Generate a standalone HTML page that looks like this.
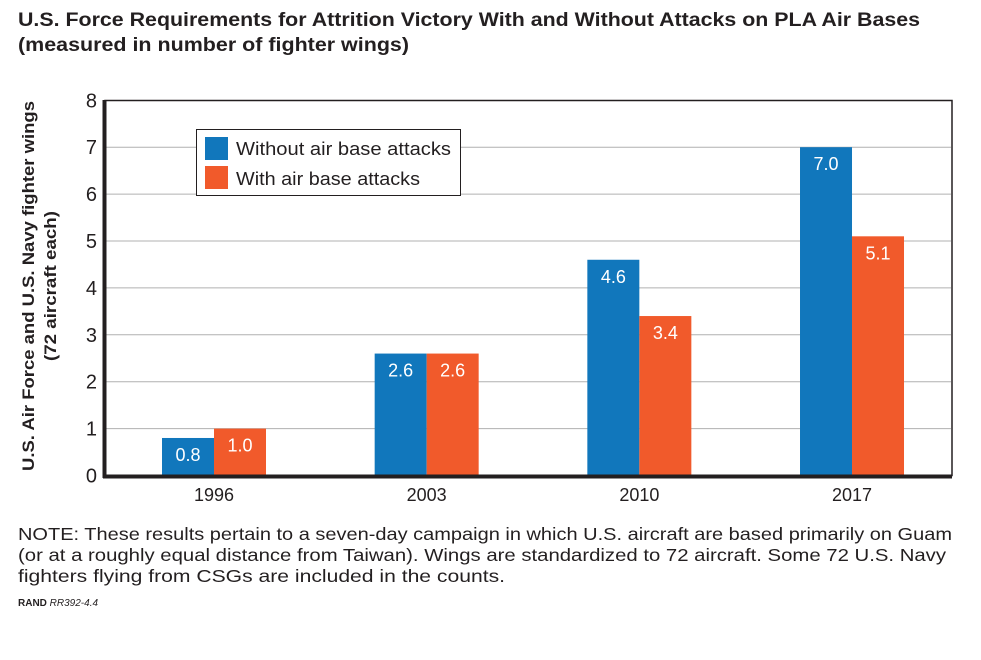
<!DOCTYPE html>
<html><head><meta charset="utf-8"><style>
body{margin:0;background:#fff;font-family:"Liberation Sans",sans-serif;}
</style></head><body>
<svg width="981" height="655" viewBox="0 0 981 655" xmlns="http://www.w3.org/2000/svg" font-family="Liberation Sans, sans-serif">
<text x="18" y="26" font-size="19" font-weight="bold" fill="#231f20" textLength="902" lengthAdjust="spacingAndGlyphs">U.S. Force Requirements for Attrition Victory With and Without Attacks on PLA Air Bases</text>
<text x="18" y="51" font-size="19" font-weight="bold" fill="#231f20" textLength="391" lengthAdjust="spacingAndGlyphs">(measured in number of fighter wings)</text>
<g id="grid"></g>
<g id="bars"></g>
<g id="yticks"></g>
<g id="xticks"></g>
<rect x="105" y="100.5" width="847" height="375" fill="none" stroke="#231f20" stroke-width="1.5"/>
<line x1="104.5" y1="100" x2="104.5" y2="478" stroke="#231f20" stroke-width="4"/>
<line x1="103" y1="476.5" x2="952" y2="476.5" stroke="#231f20" stroke-width="4"/>
<g transform="translate(34,286) rotate(-90)">
<text x="0" y="0" text-anchor="middle" font-size="17" font-weight="bold" fill="#231f20" textLength="370" lengthAdjust="spacingAndGlyphs">U.S. Air Force and U.S. Navy fighter wings</text>
<text x="0" y="22" text-anchor="middle" font-size="17" font-weight="bold" fill="#231f20" textLength="150" lengthAdjust="spacingAndGlyphs">(72 aircraft each)</text>
</g>
<g>
<rect x="196.5" y="129.5" width="264" height="66" fill="#fff" stroke="#231f20" stroke-width="1"/>
<rect x="205" y="137" width="23" height="23" fill="#1177bc"/>
<text x="236" y="155" font-size="18" fill="#231f20" textLength="215" lengthAdjust="spacingAndGlyphs">Without air base attacks</text>
<rect x="205" y="166" width="23" height="23" fill="#f15a2b"/>
<text x="236" y="185" font-size="18" fill="#231f20" textLength="184" lengthAdjust="spacingAndGlyphs">With air base attacks</text>
</g>
<g font-size="17.5" fill="#231f20">
<text x="18" y="540" textLength="934" lengthAdjust="spacingAndGlyphs">NOTE: These results pertain to a seven-day campaign in which U.S. aircraft are based primarily on Guam</text>
<text x="18" y="561" textLength="928" lengthAdjust="spacingAndGlyphs">(or at a roughly equal distance from Taiwan). Wings are standardized to 72 aircraft. Some 72 U.S. Navy</text>
<text x="18" y="582" textLength="487" lengthAdjust="spacingAndGlyphs">fighters flying from CSGs are included in the counts.</text>
</g>
<text x="18" y="606" font-size="10" fill="#231f20"><tspan font-weight="bold">RAND</tspan> <tspan font-style="italic">RR392-4.4</tspan></text>
</svg>
<script>
const categories=["1996","2003","2010","2017"];
const withoutAttacks=[0.8,2.6,4.6,7.0];
const withAttacks=[1.0,2.6,3.4,5.1];
const yTicks=[0,1,2,3,4,5,6,7,8];
const NS="http://www.w3.org/2000/svg";
const y0=475.5,unit=46.9;
function yScale(v){return y0-v*unit;}
function xCenter(i){return 214+i*212.67;}
const bw=52;
const grid=document.getElementById('grid'),bars=document.getElementById('bars'),yt=document.getElementById('yticks'),xt=document.getElementById('xticks');
function mk(tag,attrs,parent,txt){const e=document.createElementNS(NS,tag);for(const k in attrs)e.setAttribute(k,attrs[k]);if(txt!==undefined)e.textContent=txt;parent.appendChild(e);return e;}
yTicks.forEach(t=>{
  if(t>0&&t<8){const l=mk('line',{x1:106,x2:951,y1:yScale(t),y2:yScale(t),stroke:'#b0b0b0','stroke-width':1},grid);
  
  }
  const tx=mk('text',{x:97,y:yScale(t)+7,'text-anchor':'end','font-size':20,fill:'#231f20'},yt,String(t));
  
  
});
categories.forEach((c,i)=>{
  const cx=xCenter(i);
  const series=[[withoutAttacks[i],'#1177bc',cx-bw],[withAttacks[i],'#f15a2b',cx]];
  series.forEach((s,j)=>{
    const r=mk('rect',{x:s[2],y:yScale(s[0]),width:bw,height:y0-yScale(s[0]),fill:s[1]},bars);
    
    
    const lb=mk('text',{x:s[2]+bw/2,y:yScale(s[0])+23,'text-anchor':'middle','font-size':18,fill:'#fff'},bars,s[0].toFixed(1));
    
    
  });
  const xl=mk('text',{x:cx,y:501,'text-anchor':'middle','font-size':18,fill:'#231f20'},xt,c);
  
  
});
</script>
</body></html>
